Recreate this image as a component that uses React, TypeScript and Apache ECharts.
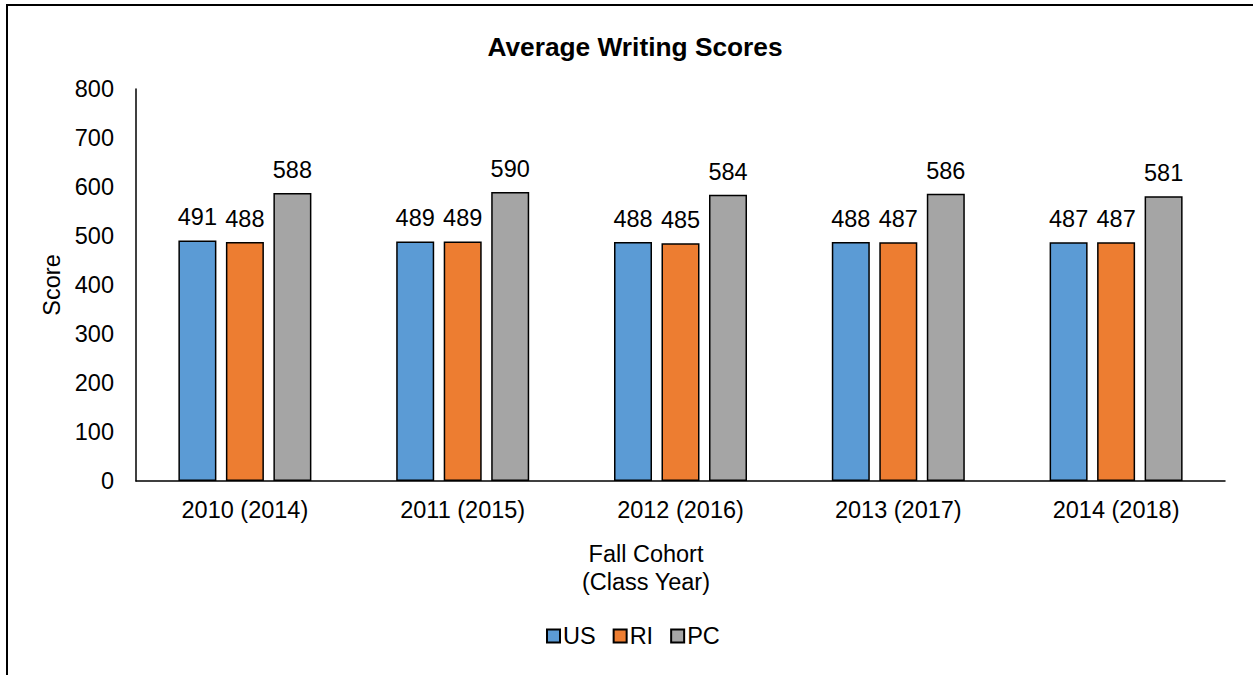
import React, { useEffect, useRef } from "react";
import * as echarts from "echarts";

const categories = ["2010 (2014)", "2011 (2015)", "2012 (2016)", "2013 (2017)", "2014 (2018)"];
const usValues = [491, 489, 488, 488, 487];
const riValues = [488, 489, 485, 487, 487];
const pcValues = [588, 590, 584, 586, 581];
const yTicks = { min: 0, max: 800, interval: 100 };

const FONT = "Liberation Sans, Arial, sans-serif";

export default function App() {
  const ref = useRef<HTMLDivElement>(null);
  useEffect(() => {
    const chart = echarts.init(ref.current!, null, { renderer: "svg" });
    const label = {
      show: true,
      position: "top",
      distance: 11,
      color: "#000",
      fontSize: 23.5,
      fontFamily: FONT,
    };
    const mk = (name: string, data: number[], color: string) => ({
      name,
      type: "bar",
      data,
      barWidth: 38,
      barGap: "25%",
      itemStyle: { color, borderColor: "#000", borderWidth: 1.5 },
      label,
    });
    chart.setOption({
      animation: false,
      backgroundColor: "#fff",
      textStyle: { fontFamily: FONT },
      title: {
        text: "Average Writing Scores",
        left: 630,
        textAlign: "center",
        top: 29,
        textStyle: { fontSize: 26.3, fontWeight: "bold", color: "#000", fontFamily: FONT },
      },
      graphic: [
        {
          type: "rect",
          shape: { x: 7, y: 5, width: 1400, height: 900 },
          style: { fill: "none", stroke: "#000", lineWidth: 2 },
          silent: true,
        },
        {
          type: "text",
          x: 646,
          y: 540,
          silent: true,
          style: {
            text: "Fall Cohort\n(Class Year)",
            textAlign: "center",
            fontSize: 23.5,
            lineHeight: 28,
            fill: "#000",
            fontFamily: FONT,
          },
        },
      ],
      legend: {
        data: ["US", "RI", "PC"],
        bottom: 22,
        left: 541,
        itemWidth: 13,
        itemHeight: 13,
        itemGap: 17,
        icon: "rect",
        textStyle: { fontSize: 23.5, color: "#000", fontFamily: FONT, padding: [0, 0, 0, -2] },
      },
      grid: { left: 136, right: 28, top: 89, bottom: 194, containLabel: false },
      xAxis: {
        type: "category",
        data: categories,
        axisLine: { lineStyle: { color: "#000", width: 1.5 } },
        axisTick: { show: false },
        axisLabel: { fontSize: 23.5, color: "#000", margin: 17, fontFamily: FONT },
      },
      yAxis: {
        type: "value",
        min: yTicks.min,
        max: yTicks.max,
        interval: yTicks.interval,
        name: "Score",
        nameLocation: "middle",
        nameGap: 68,
        nameTextStyle: { fontSize: 23.5, color: "#000", fontFamily: FONT },
        axisLine: { show: true, lineStyle: { color: "#000", width: 1.5 } },
        axisTick: { show: false },
        splitLine: { show: false },
        axisLabel: { fontSize: 23.5, color: "#000", margin: 22, fontFamily: FONT },
      },
      series: [
        mk("US", usValues, "#5B9BD5"),
        mk("RI", riValues, "#ED7D31"),
        mk("PC", pcValues, "#A5A5A5"),
      ],
    });
    return () => chart.dispose();
  }, []);
  return (
    <div
      ref={ref}
      style={{ position: "absolute", left: 0, top: 0, width: 1253, height: 675 }}
    />
  );
}
